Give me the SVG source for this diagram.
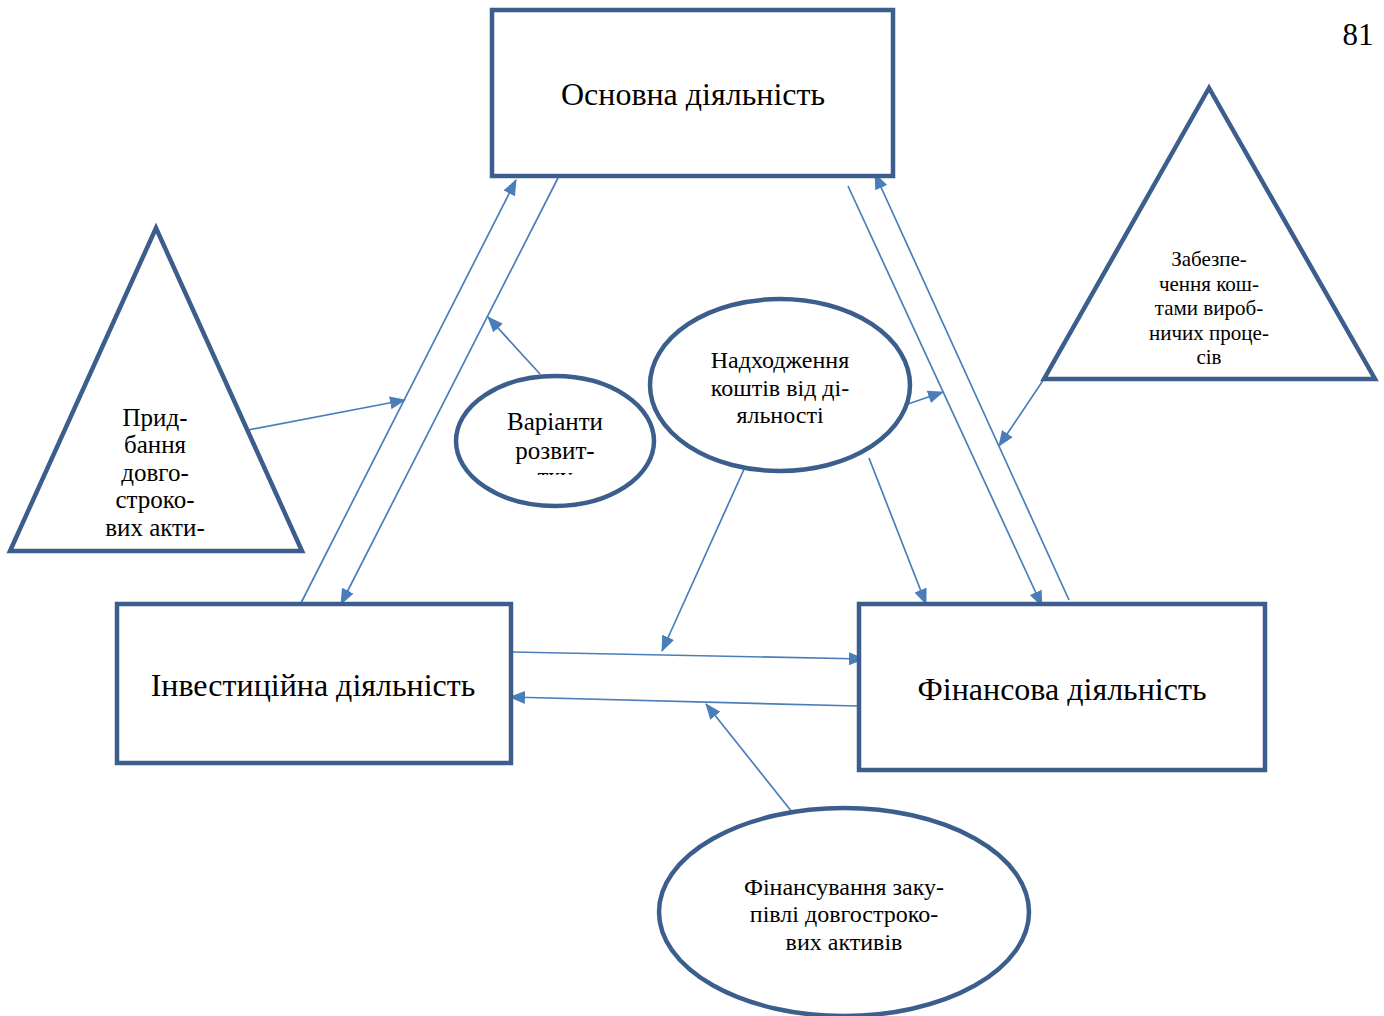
<svg xmlns="http://www.w3.org/2000/svg" width="1384" height="1016" viewBox="0 0 1384 1016">
  <style>
    .shape { fill: #ffffff; stroke: #3b5e8c; stroke-width: 4.5; }
    .link { fill: none; stroke: #4a7ebb; stroke-width: 1.7; marker-end: url(#arrow); }
    .t { font-family: "Liberation Serif", "Times New Roman", serif; fill: #000; text-anchor: middle; }
    .big { font-size: 32px; }
    .mid { font-size: 24px; }
    .tri { font-size: 25px; }
    .sm { font-size: 21px; }
  </style>
  <defs>
    <marker id="arrow" viewBox="0 0 16 13" refX="15" refY="6.5" markerWidth="16" markerHeight="13" markerUnits="userSpaceOnUse" orient="auto">
      <path d="M0,0 L16,6.5 L0,13 Z" fill="#4a7ebb"/>
    </marker>
    <!-- the third label line only peeks above the ellipse's text area -->
    <clipPath id="clipVar">
      <rect x="440" y="370" width="240" height="105"/>
    </clipPath>
  </defs>

  <rect width="1384" height="1016" fill="#ffffff"/>

  <text class="t" x="1358" y="45" font-size="31">81</text>

  <g id="connectors">
    <line class="link" x1="301" y1="603" x2="516" y2="180"/>
    <line class="link" x1="558" y1="178" x2="341" y2="604"/>
    <line class="link" x1="248" y1="430" x2="405" y2="400"/>
    <line class="link" x1="540" y1="374" x2="488" y2="317"/>
    <line class="link" x1="750" y1="456" x2="662" y2="651"/>
    <line class="link" x1="869" y1="458" x2="926" y2="604"/>
    <line class="link" x1="908" y1="404" x2="943" y2="392"/>
    <line class="link" x1="848" y1="186" x2="1042" y2="606"/>
    <line class="link" x1="1069" y1="600" x2="875" y2="174"/>
    <line class="link" x1="1044" y1="379" x2="999" y2="446"/>
    <line class="link" x1="512" y1="652" x2="864" y2="659"/>
    <line class="link" x1="857" y1="706" x2="510" y2="697"/>
    <line class="link" x1="792" y1="812" x2="706" y2="704"/>
  </g>

  <g id="node-main">
    <rect class="shape" x="492" y="10" width="401" height="166"/>
    <text class="t big" x="693" y="105">Основна діяльність</text>
  </g>

  <g id="node-investment">
    <rect class="shape" x="117" y="604" width="394" height="159"/>
    <text class="t big" x="313" y="696">Інвестиційна діяльність</text>
  </g>

  <g id="node-finance">
    <rect class="shape" x="859" y="604" width="406" height="166"/>
    <text class="t big" x="1062" y="700">Фінансова діяльність</text>
  </g>

  <g id="node-acquisition">
    <polygon class="shape" points="156,228 10,551 302,551"/>
    <text class="t tri" x="155" y="426">Прид-</text>
    <text class="t tri" x="155" y="453">бання</text>
    <text class="t tri" x="155" y="481">довго-</text>
    <text class="t tri" x="155" y="508">строко-</text>
    <text class="t tri" x="155" y="536">вих акти-</text>
  </g>

  <g id="node-provision">
    <polygon class="shape" points="1209,88 1044,379 1375,379"/>
    <text class="t sm" x="1209" y="266">Забезпе-</text>
    <text class="t sm" x="1209" y="291">чення кош-</text>
    <text class="t sm" x="1209" y="315">тами вироб-</text>
    <text class="t sm" x="1209" y="340">ничих проце-</text>
    <text class="t sm" x="1209" y="364">сів</text>
  </g>

  <g id="node-options">
    <ellipse class="shape" cx="555" cy="441" rx="99" ry="65"/>
    <g clip-path="url(#clipVar)">
      <text class="t tri" x="555" y="430">Варіанти</text>
      <text class="t tri" x="555" y="459">розвит-</text>
      <text class="t tri" x="555" y="485">тку</text>
    </g>
  </g>

  <g id="node-inflow">
    <ellipse class="shape" cx="780" cy="385" rx="130" ry="86"/>
    <text class="t mid" x="780" y="368">Надходження</text>
    <text class="t mid" x="780" y="396">коштів від ді-</text>
    <text class="t mid" x="780" y="423">яльності</text>
  </g>

  <g id="node-funding">
    <ellipse class="shape" cx="844" cy="912" rx="185" ry="104"/>
    <text class="t mid" x="844" y="895">Фінансування заку-</text>
    <text class="t mid" x="844" y="922">півлі довгостроко-</text>
    <text class="t mid" x="844" y="950">вих активів</text>
  </g>
</svg>
